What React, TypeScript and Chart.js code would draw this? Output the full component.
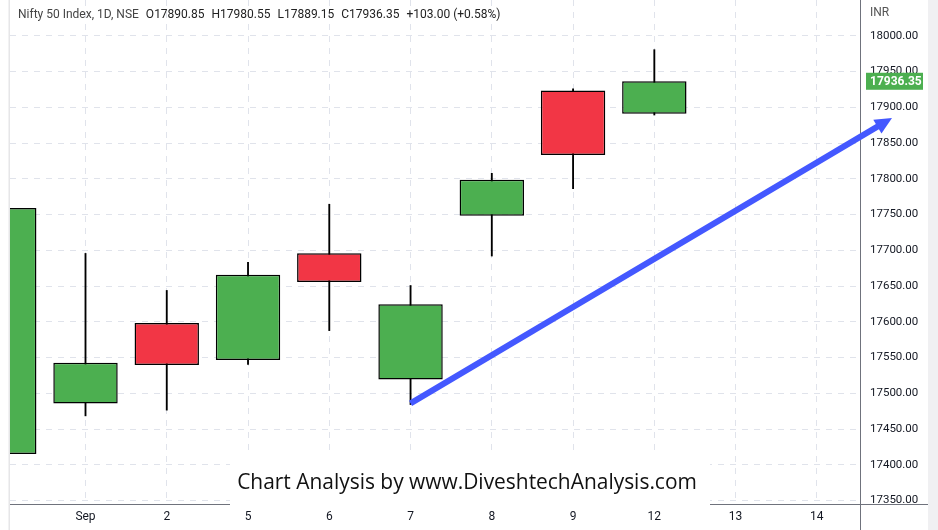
import React, { useEffect, useRef } from "react";
import { Chart, registerables } from "chart.js";

Chart.register(...registerables);

// ---- data ----
const dayLabels = ["Aug 30", "Sep", "2", "5", "6", "7", "8", "9", "12", "13", "14"];
const opens = [17414.95, 17485.7, 17598.4, 17546.45, 17695.7, 17519.4, 17748.15, 17923.35, 17890.85];
const highs = [17777.65, 17695.6, 17643.85, 17683.15, 17764.4, 17650.75, 17807.65, 17925.95, 17980.55];
const lows = [17401.5, 17468.45, 17476.45, 17540.35, 17587.65, 17484.3, 17691.95, 17786.0, 17889.15];
const closes = [17759.3, 17542.8, 17539.45, 17665.8, 17655.6, 17624.4, 17798.75, 17833.35, 17936.35];
const priceTicks = [17350, 17400, 17450, 17500, 17550, 17600, 17650, 17700, 17750, 17800, 17850, 17900, 17950, 18000];
const headerTitle = "Nifty 50 Index, 1D, NSE";
const headerValues = ["O17890.85", "H17980.55", "L17889.15", "C17936.35", "+103.00 (+0.58%)"];
const currency = "INR";
const watermark = "Chart Analysis by www.DiveshtechAnalysis.com";
// trend arrow in data coordinates (index, price)
const arrowStart = { x: 5, y: 17486 };
const arrowEnd = { x: 10.925, y: 17885 };

const UP = "#4caf50";
const DOWN = "#f23645";
const GRID = "#e0e3eb";
const AXIS = "#6f727c";
const TEXT = "#131722";

const overlayPlugin = {
  id: "overlay",
  afterDraw(chart: any) {
    const ctx = chart.ctx as CanvasRenderingContext2D;
    const xs = chart.scales.x;
    const ys = chart.scales.y;
    const area = chart.chartArea;
    const W = chart.width;
    const H = chart.height;
    ctx.save();

    // axis lines extended
    ctx.strokeStyle = AXIS;
    ctx.lineWidth = 1;
    ctx.beginPath();
    ctx.moveTo(area.right + 0.5, 0);
    ctx.lineTo(area.right + 0.5, H);
    ctx.moveTo(area.left, area.bottom + 0.5);
    ctx.lineTo(W - 10, area.bottom + 0.5);
    ctx.stroke();

    // frame strips
    ctx.fillStyle = "#f0f0f2";
    ctx.fillRect(W - 10, 0, 10, H);
    ctx.fillStyle = "#e6e6e8";
    ctx.fillRect(area.left - 1.5, 0, 1.5, H);

    // arrow
    const x1 = xs.getPixelForValue(arrowStart.x);
    const y1 = ys.getPixelForValue(arrowStart.y);
    const x2 = xs.getPixelForValue(arrowEnd.x);
    const y2 = ys.getPixelForValue(arrowEnd.y);
    const ang = Math.atan2(y2 - y1, x2 - x1);
    const headLen = 17;
    const headHalf = 8;
    const bx = x2 - headLen * Math.cos(ang);
    const by = y2 - headLen * Math.sin(ang);
    ctx.strokeStyle = "#4458ff";
    ctx.fillStyle = "#4458ff";
    ctx.lineWidth = 6;
    ctx.lineCap = "butt";
    ctx.beginPath();
    ctx.moveTo(x1, y1);
    ctx.lineTo(bx + 2 * Math.cos(ang), by + 2 * Math.sin(ang));
    ctx.stroke();
    ctx.beginPath();
    ctx.moveTo(x2, y2);
    ctx.lineTo(bx + headHalf * Math.sin(ang), by - headHalf * Math.cos(ang));
    ctx.lineTo(bx - headHalf * Math.sin(ang), by + headHalf * Math.cos(ang));
    ctx.closePath();
    ctx.fill();

    // header
    ctx.textBaseline = "middle";
    ctx.textAlign = "left";
    ctx.font = "12px Roboto, 'Liberation Sans', sans-serif";
    let hx = 18;
    ctx.fillStyle = "#444";
    ctx.fillText(headerTitle, hx, 15);
    hx += ctx.measureText(headerTitle).width + 7;
    ctx.fillStyle = "#222";
    headerValues.forEach((t) => {
      ctx.fillText(t, hx, 15);
      hx += ctx.measureText(t).width + 7;
    });

    // INR
    ctx.fillStyle = "#555";
    ctx.font = "12px Roboto, 'Liberation Sans', sans-serif";
    ctx.fillText(currency, area.right + 10, 13);

    // last price label
    const last = closes[closes.length - 1];
    const py = ys.getPixelForValue(last);
    ctx.fillStyle = UP;
    ctx.fillRect(area.right + 6, py - 8.5, 57, 17);
    ctx.fillStyle = "#ffffff";
    ctx.font = "bold 12px Roboto, 'Liberation Sans', sans-serif";
    ctx.fillText(last.toFixed(2), area.right + 10, py + 0.5);

    // watermark
    ctx.fillStyle = "#ffffff";
    ctx.fillRect(230, 450, 480, 55.5);
    ctx.font = "20px 'Open Sans', sans-serif";
    const mw = ctx.measureText(watermark).width;
    const size = 20 * 460 / mw;
    ctx.font = `${size}px 'Open Sans', sans-serif`;
    ctx.fillStyle = "#111";
    ctx.textAlign = "center";
    ctx.fillText(watermark, 467, 483);
    ctx.restore();
  },
};

export default function App() {
  const ref = useRef<HTMLCanvasElement>(null);
  useEffect(() => {
    if (!ref.current) return;
    const idx = opens.map((_, i) => i);
    const colors = idx.map((i) => (closes[i] >= opens[i] ? UP : DOWN));
    const chart = new Chart(ref.current, {
      type: "bar",
      data: {
        datasets: [
          {
            label: "wick",
            data: idx.map((i) => ({ x: i, y: [lows[i], highs[i]] })) as any,
            backgroundColor: "#000",
            borderWidth: 0,
            barThickness: 1.2,
            grouped: false,
            order: 2,
          } as any,
          {
            label: "body",
            data: idx.map((i) => ({ x: i, y: [opens[i], closes[i]] })) as any,
            backgroundColor: colors,
            borderColor: "#000",
            borderWidth: 1.5,
            borderSkipped: false,
            categoryPercentage: 1,
            barPercentage: 0.7925,
            grouped: false,
            order: 1,
          } as any,
        ],
      },
      options: {
        responsive: false,
        animation: false,
        events: [],
        layout: { autoPadding: false, padding: { left: 10, right: 0, top: 0, bottom: 0 } },
        plugins: { legend: { display: false }, tooltip: { enabled: false } },
        scales: {
          x: {
            type: "linear",
            offset: false,
            min: 0.0709,
            max: 10.531,
            afterBuildTicks: (s: any) => {
              s.ticks = dayLabels.map((_, i) => ({ value: i })).filter((t) => t.value >= 1);
            },
            afterFit: (s: any) => {
              s.height = 26;
              s.paddingLeft = 0;
              s.paddingRight = 0;
            },
            ticks: {
              autoSkip: false,
              maxRotation: 0,
              padding: 6,
              color: TEXT,
              font: { size: 12, family: "Roboto, 'Liberation Sans', sans-serif" },
              callback: (v: any) => dayLabels[v] ?? "",
            },
            grid: {
              offset: false,
              color: GRID,
              drawTicks: false,
            } as any,
            border: { display: true, color: AXIS, dash: [6, 6] } as any,
          },
          y: {
            type: "linear",
            position: "right",
            min: 17345.2,
            max: 18050,
            afterBuildTicks: (s: any) => {
              s.ticks = priceTicks.map((v) => ({ value: v }));
            },
            afterFit: (s: any) => {
              s.width = 78;
              s.paddingTop = 0;
              s.paddingBottom = 0;
            },
            ticks: {
              padding: 10,
              color: TEXT,
              font: { size: 11.5, family: "Roboto, 'Liberation Sans', sans-serif" },
              callback: (v: any) => Number(v).toFixed(2),
            },
            grid: { color: GRID, drawTicks: false },
            border: { display: false, dash: [6, 6] } as any,
          },
        },
      } as any,
      plugins: [overlayPlugin],
    });
    return () => chart.destroy();
  }, []);
  return (
    <div style={{ position: "fixed", left: 0, top: 0, width: 938, height: 530, background: "#fff" }}>
      <canvas ref={ref} width={938} height={530} />
    </div>
  );
}
